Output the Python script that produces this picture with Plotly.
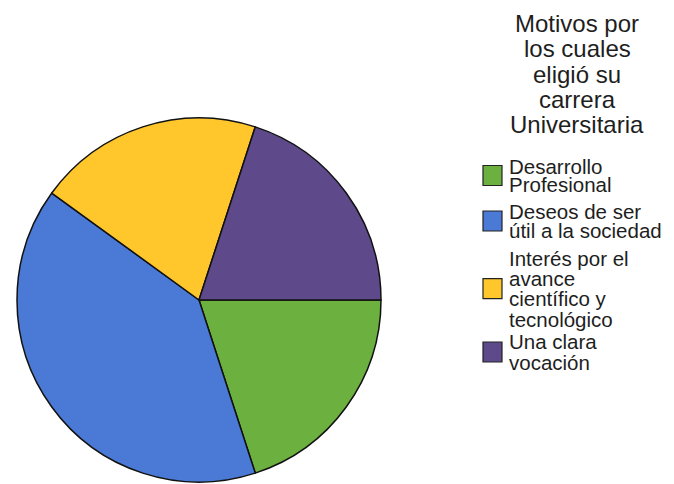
import plotly.graph_objects as go

categories = ["Desarrollo Profesional", "Deseos de ser útil a la sociedad",
              "Interés por el avance científico y tecnológico", "Una clara vocación"]
legend_lines = [["Desarrollo", "Profesional"],
                ["Deseos de ser", "útil a la sociedad"],
                ["Interés por el", "avance", "científico y", "tecnológico"],
                ["Una clara", "vocación"]]
values = [20, 40, 20, 20]
colors = ["#6CB040", "#4A7AD6", "#FFC72C", "#5E4A8A"]
title_lines = ["Motivos por", "los cuales", "eligió su", "carrera", "Universitaria"]

W, H = 674, 484
FONT = "Liberation Sans, Arial, sans-serif"
TXT = "#1e1e1e"

fig = go.Figure(go.Pie(
    labels=categories, values=values, sort=False, direction="clockwise",
    rotation=90, textinfo="none", hoverinfo="label+value",
    marker=dict(colors=colors, line=dict(color="#111111", width=1.5)),
    domain=dict(x=[17 / W, 381 / W], y=[1 - 482 / H, 1 - 118 / H]),
    showlegend=False,
))

annotations = []
shapes = []
# legend title
for i, t in enumerate(title_lines):
    yc = 23 + 25.5 * i
    annotations.append(dict(text=t, x=577 / W, y=1 - yc / H, xref="paper", yref="paper",
                            xanchor="center", yanchor="middle", showarrow=False,
                            font=dict(family=FONT, size=24, color=TXT)))
# legend items
line_centers = [[166.5, 184.5], [211.5, 230.5], [258.5, 278, 298.5, 319.5], [341.5, 362.5]]
for lines, cents, col in zip(legend_lines, line_centers, colors):
    for t, yc in zip(lines, cents):
        annotations.append(dict(text=t, x=507 / W, y=1 - yc / H, xref="paper", yref="paper",
                                xanchor="left", yanchor="middle", showarrow=False,
                                font=dict(family=FONT, size=20.5, color=TXT)))
    ym = sum(cents) / len(cents)
    shapes.append(dict(type="rect", xref="paper", yref="paper",
                       x0=483 / W, x1=502 / W, y0=1 - (ym - 10) / H, y1=1 - (ym + 10) / H,
                       fillcolor=col, line=dict(color="#222222", width=1.2)))

fig.update_layout(width=W, height=H, margin=dict(l=0, r=0, t=0, b=0),
                  paper_bgcolor="white", plot_bgcolor="white",
                  annotations=annotations, shapes=shapes,
                  font=dict(family=FONT, color=TXT))
fig.write_html("out.html", config={"displayModeBar": False},
               post_script="document.body.style.margin='0';document.body.style.padding='0';")
